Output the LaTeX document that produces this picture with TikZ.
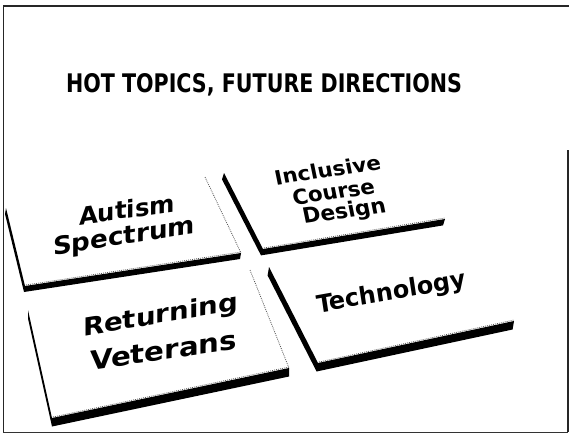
\documentclass[tikz,border=0pt]{standalone}
\usepackage{fontspec}
\setmainfont{DejaVu Sans}
% text on a tile: scaled to a given width, then squashed vertically
\newcommand\tiletext[3]{\scalebox{1}[#2]{\resizebox{#1}{!}{\bfseries #3}}}
\begin{document}
\begin{tikzpicture}[x=1pt,y=-1pt,
  frameline/.style={line width=1.4pt, black!85},
  slabside/.style={fill=black},
  edgedots/.style={black!65, line width=0.8pt, dash pattern=on 0.9pt off 1.1pt},
  tilelabel/.style={anchor=base west, inner sep=0pt, outer sep=0pt}]
\useasboundingbox (0,0) rectangle (569,434);

% page frame
\draw[frameline] (3.5,6) -- (3.5,432);
\draw[frameline] (3,6) -- (569,6);
\draw[frameline] (568,150) -- (568,432);
\draw[line width=1pt, black!80] (3,432) -- (568,432);

% title
\node[tilelabel] (title) at (66,92)
  {\resizebox{396pt}{19pt}{\bfseries HOT TOPICS, FUTURE DIRECTIONS}};

% ---- tile: Autism Spectrum ----
\coordinate (a-tl) at (6,208);   \coordinate (a-tr) at (205,177);
\coordinate (a-br) at (241,253); \coordinate (a-bl) at (25,286);
\fill[slabside] (a-tl) -- (a-bl) -- (a-br) -- ([shift={(-1,6)}]a-br)
  -- ([shift={(-1,6)}]a-bl) -- ([shift={(-1,6)}]a-tl) -- cycle;
\draw[edgedots] (a-tr) -- (a-br);
\draw[edgedots] ([shift={(1,-1)}]a-bl) -- ([shift={(0,-1)}]a-br);
\node[tilelabel, yslant=0.14] (autism1) at (79,225) {\tiletext{96pt}{1.0}{Autism}};
\node[tilelabel, yslant=0.153] (autism2) at (53,255) {\tiletext{142pt}{0.95}{Spectrum}};

% ---- tile: Inclusive Course Design ----
\coordinate (b-tl) at (224,173); \coordinate (b-br) at (445,219);
\coordinate (b-bl) at (263,249);
\fill[slabside] (b-tl) -- (b-bl) -- (b-br) -- ([shift={(-2,6.4)}]b-br)
  -- ([shift={(-2,6.4)}]b-bl) -- ([shift={(-2,6.4)}]b-tl) -- cycle;
\draw[edgedots] ([shift={(1,-1)}]b-bl) -- ([shift={(0,-1)}]b-br);
\node[tilelabel, yslant=0.145, xslant=-0.2] (inclusive1) at (276,185) {\tiletext{106pt}{0.95}{Inclusive}};
\node[tilelabel, yslant=0.14, xslant=-0.2] (inclusive2) at (294,205) {\tiletext{82pt}{1.0}{Course}};
\node[tilelabel, yslant=0.13, xslant=-0.2] (inclusive3) at (304,223.5) {\tiletext{83pt}{1.0}{Design}};

% ---- tile: Returning Veterans ----
\coordinate (c-tl) at (28,310);  \coordinate (c-tr) at (250,270);
\coordinate (c-br) at (289,368); \coordinate (c-bl) at (52,418);
\fill[slabside] (c-tl) -- (c-bl) -- (c-br) -- ([shift={(0,8.5)}]c-br)
  -- ([shift={(0,8.5)}]c-bl) -- ([shift={(0,8.5)}]c-tl) -- cycle;
\draw[edgedots] (c-tr) -- (c-br);
\draw[edgedots] ([shift={(1,-1)}]c-bl) -- ([shift={(0,-1)}]c-br);
\node[tilelabel, yslant=0.165] (veterans1) at (83,336) {\tiletext{155pt}{0.9}{Returning}};
\node[tilelabel, yslant=0.14] (veterans2) at (90,370) {\tiletext{147pt}{0.9}{Veterans}};

% ---- tile: Technology ----
\coordinate (d-tl) at (269,267); \coordinate (d-br) at (514,321);
\coordinate (d-bl) at (318,363);
\fill[slabside] (d-tl) -- (d-bl) -- (d-br) -- ([shift={(-1.4,8.5)}]d-br)
  -- ([shift={(-1.4,8.5)}]d-bl) -- ([shift={(-1.4,8.5)}]d-tl) -- cycle;
\draw[edgedots] ([shift={(1,-1)}]d-bl) -- ([shift={(0,-1)}]d-br);
\node[tilelabel, yslant=0.177, xslant=-0.15] (technology) at (318,313) {\tiletext{149pt}{1.05}{Technology}};
\end{tikzpicture}
\end{document}
